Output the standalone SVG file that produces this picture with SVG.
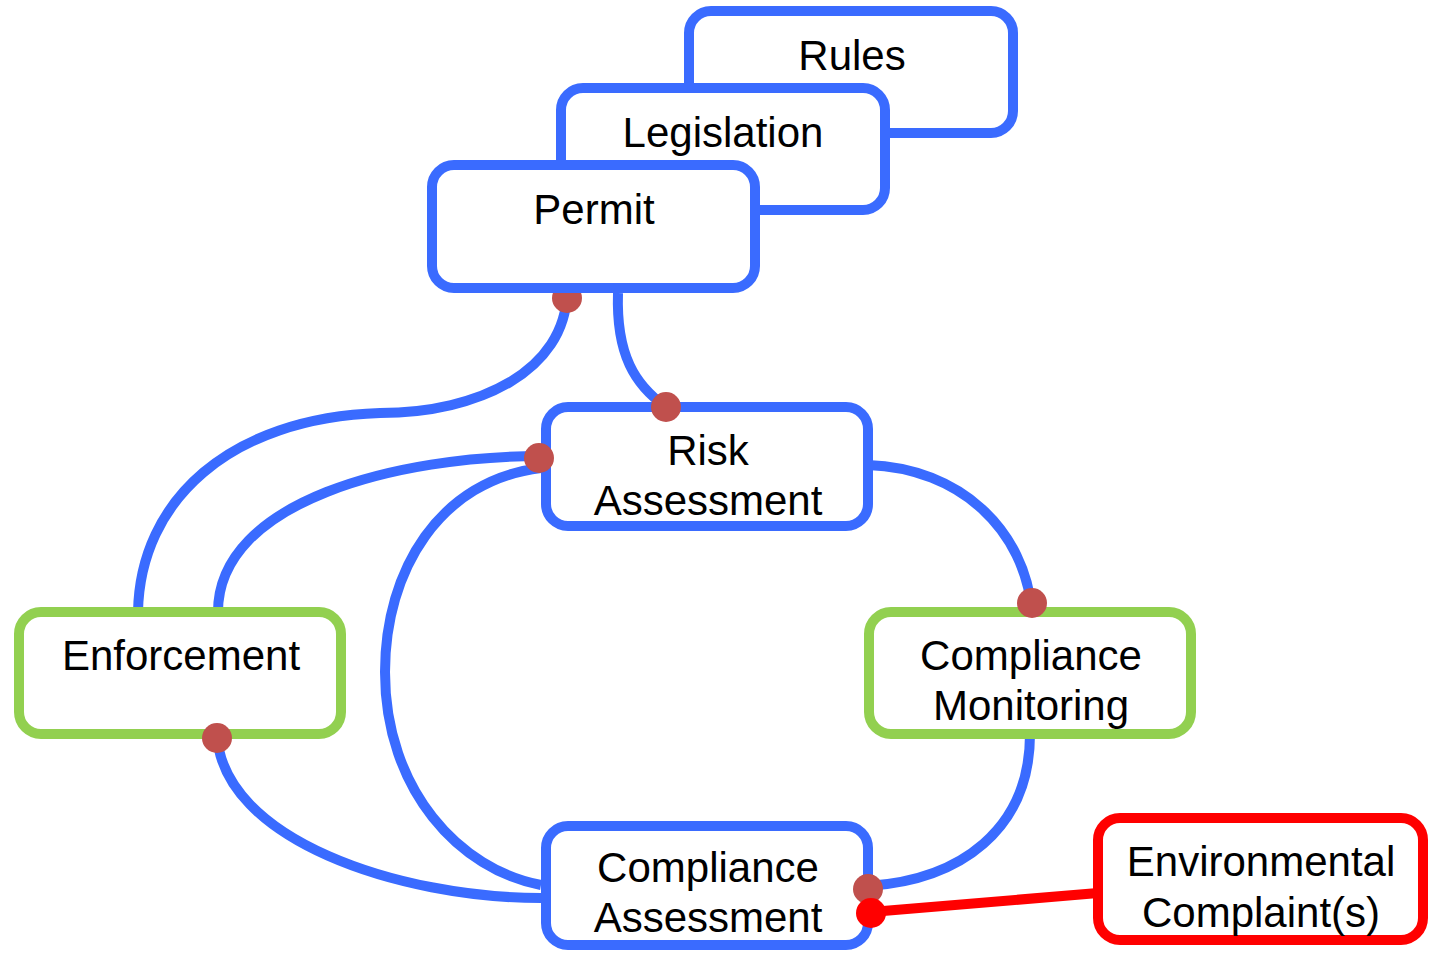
<svg xmlns="http://www.w3.org/2000/svg" width="1431" height="959" viewBox="0 0 1431 959">
<style>
.b{fill:#fff;stroke:#3a6bff;stroke-width:10}
.g{fill:#fff;stroke:#92d050;stroke-width:10}
.r{fill:#fff;stroke:#ff0000;stroke-width:10}
.t{font-family:"Liberation Sans",Arial,sans-serif;font-size:42px;fill:#000;text-anchor:middle}
.c{fill:none;stroke:#3a6bff;stroke-width:10}
.cr{fill:none;stroke:#ff0000;stroke-width:10}
.d{fill:#c0504d}
.dr{fill:#ff0000}
</style>
<rect width="1431" height="959" fill="#fff"/>
<g id="connectors">
<path class="c" d="M567,293 C565,370 480,413 380,413 C230,418 140,500 138,612"/>
<path class="c" d="M618,293 C616,355 635,385 666,407"/>
<path class="c" d="M541,456 C400,456 218,500 218,612"/>
<path class="c" d="M541,468 C440,480 385,570 385,672 C385,790 460,870 541,885"/>
<path class="c" d="M868,465 C960,468 1025,530 1032,612"/>
<path class="c" d="M217,734 C222,840 400,898 541,898"/>
<path class="c" d="M1030,734 C1030,830 960,880 868,886"/>
<path class="cr" d="M1098,893 L871,912"/>
<circle class="d" cx="567" cy="298" r="15"/>
</g>
<g id="node-rules"><rect class="b" x="689" y="11" width="324" height="122" rx="22"/><text class="t" x="852" y="70">Rules</text></g>
<g id="node-legislation"><rect class="b" x="561" y="88" width="324" height="122" rx="22"/><text class="t" x="723" y="147">Legislation</text></g>
<g id="node-permit"><rect class="b" x="432" y="165" width="323" height="123" rx="22"/><text class="t" x="594" y="224">Permit</text></g>
<g id="node-risk"><rect class="b" x="546" y="407" width="322" height="119" rx="22"/><text class="t" x="708" y="465">Risk</text><text class="t" x="708" y="515">Assessment</text></g>
<g id="node-enforcement"><rect class="g" x="19" y="612" width="322" height="122" rx="22"/><text class="t" x="181" y="670">Enforcement</text></g>
<g id="node-monitoring"><rect class="g" x="869" y="612" width="322" height="122" rx="22"/><text class="t" x="1031" y="670">Compliance</text><text class="t" x="1031" y="720">Monitoring</text></g>
<g id="node-assessment"><rect class="b" x="546" y="826" width="322" height="119" rx="22"/><text class="t" x="708" y="882">Compliance</text><text class="t" x="708" y="932">Assessment</text></g>
<g id="node-complaints"><rect class="r" x="1098" y="818" width="325" height="122" rx="22"/><text class="t" x="1261" y="876">Environmental</text><text class="t" x="1261" y="927">Complaint(s)</text></g>
<g id="endpoints">
<circle class="d" cx="666" cy="407" r="15"/>
<circle class="d" cx="539" cy="458" r="15"/>
<circle class="d" cx="1032" cy="603" r="15"/>
<circle class="d" cx="217" cy="738" r="15"/>
<circle class="d" cx="868" cy="889" r="15"/>
<circle class="dr" cx="871" cy="913" r="15"/>
</g>
</svg>
